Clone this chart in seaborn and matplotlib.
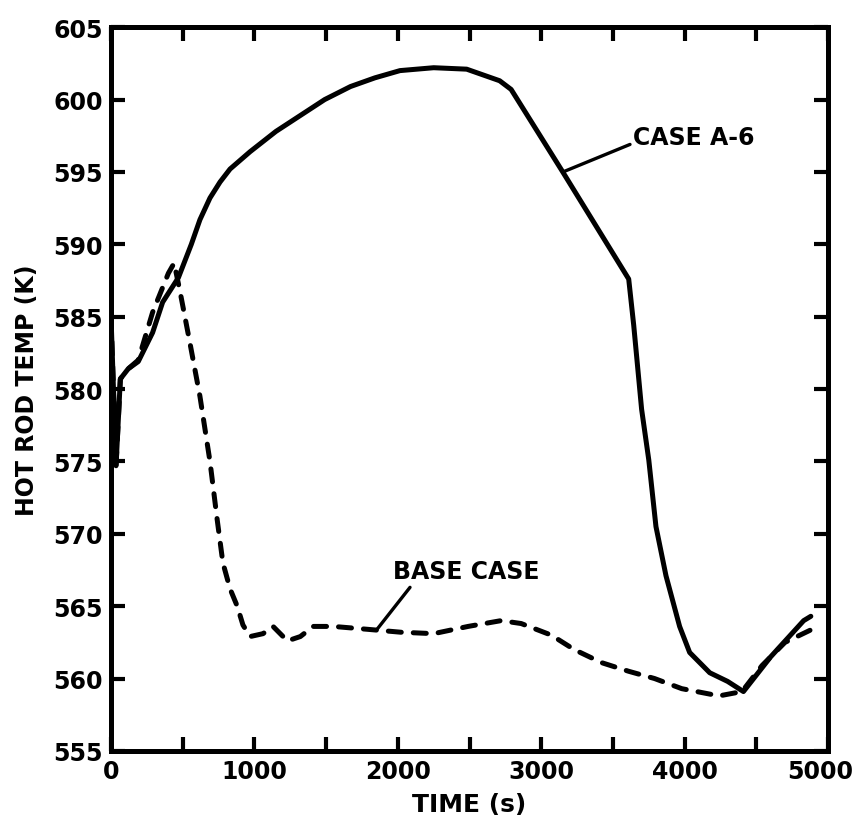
import numpy as np
import pandas as pd
import matplotlib
matplotlib.use('Agg')
import matplotlib.pyplot as plt
import matplotlib.transforms as mtransforms
from matplotlib.ticker import MultipleLocator
import seaborn as sns

# values
case_a6_time = [0, 35, 65, 120, 190, 290, 360, 470, 560, 620, 690, 760, 830, 970, 1150,
                1320, 1490, 1670, 1840, 2015, 2250, 2480, 2710, 2790, 3150, 3610, 3645,
                3700, 3750, 3800, 3870, 3965, 4035, 4175, 4300, 4410, 4600, 4830, 4880]
case_a6_temp = [585.0, 574.7, 580.7, 581.4, 581.9, 583.9, 586.0, 587.7, 590.0, 591.7,
                593.2, 594.3, 595.2, 596.4, 597.8, 598.9, 600.0, 600.9, 601.5, 602.0,
                602.2, 602.1, 601.3, 600.7, 595.0, 587.6, 584.4, 578.6, 575.1, 570.5,
                567.1, 563.6, 561.8, 560.4, 559.8, 559.1, 561.5, 564.0, 564.3]

base_time = [0, 35, 65, 120, 190, 290, 400, 440, 480, 550, 620, 690, 740, 780, 830,
             880, 920, 970, 1060, 1130, 1230, 1320, 1410, 1550, 1790, 2020, 2250, 2490,
             2720, 2860, 3070, 3230, 3420, 3610, 3790, 3980, 4240, 4400, 4540, 4700, 4930]
base_temp = [585.0, 574.7, 580.7, 581.4, 582.0, 585.3, 588.0, 588.7, 586.8, 583.2,
             579.5, 575.0, 571.0, 568.0, 566.2, 565.0, 563.7, 562.9, 563.1, 563.6,
             562.6, 562.9, 563.6, 563.6, 563.4, 563.2, 563.1, 563.6, 564.0, 563.8,
             563.0, 562.0, 561.1, 560.5, 560.0, 559.3, 558.8, 559.1, 560.9, 562.5, 563.6]

x_ticks = [0, 1000, 2000, 3000, 4000, 5000]
y_ticks = [555, 560, 565, 570, 575, 580, 585, 590, 595, 600, 605]

sns.set_theme(style='ticks')
plt.rcParams['font.family'] = ['DejaVu Sans']
plt.rcParams['font.weight'] = 'bold'
plt.rcParams['text.color'] = 'black'
plt.rcParams['axes.labelcolor'] = 'black'
plt.rcParams['xtick.color'] = 'black'
plt.rcParams['ytick.color'] = 'black'

fig, ax = plt.subplots(figsize=(8.54, 8.29), dpi=100)
fig.subplots_adjust(left=0.130, right=0.9696, top=0.966, bottom=0.093)

sns.lineplot(x=base_time, y=base_temp, ax=ax, color='black', linewidth=3.6,
             sort=False, estimator=None, linestyle=(0, (2.6, 2.4)),
             dash_capstyle='round')
sns.lineplot(x=case_a6_time, y=case_a6_temp, ax=ax, color='black', linewidth=3.6,
             sort=False, estimator=None, solid_capstyle='round', solid_joinstyle='round')

# labels with leader lines
ax.plot([3152, 3619], [595.0, 596.9], color='black', linewidth=2.4)
ax.text(3640, 597.4, 'CASE A-6', fontsize=17, fontweight='bold', va='center', ha='left')
ax.plot([2085, 1855], [566.3, 563.4], color='black', linewidth=2.4)
ax.text(1967, 567.4, 'BASE CASE', fontsize=17, fontweight='bold', va='center', ha='left')

ax.set_xlim(0, 5000)
ax.set_ylim(555, 605)
ax.set_xticks(x_ticks)
ax.set_yticks(y_ticks)
ax.xaxis.set_minor_locator(MultipleLocator(500))

ax.tick_params(which='both', direction='in', top=True, right=True,
               length=10, width=3, labelsize=17, pad=6, colors='black')
for lab in ax.get_xticklabels() + ax.get_yticklabels():
    lab.set_fontweight('bold')

# last x label is pushed in from the page edge
last = ax.get_xticklabels()[-1]
last.set_transform(last.get_transform() + mtransforms.ScaledTranslation(-8 / 100, 0, fig.dpi_scale_trans))

for sp in ax.spines.values():
    sp.set_linewidth(3.6)
    sp.set_color('black')

ax.set_xlabel('TIME (s)', fontsize=18, fontweight='bold', labelpad=6)
ax.set_ylabel('HOT ROD TEMP (K)', fontsize=17, fontweight='bold', labelpad=10)

plt.savefig('out.png', dpi=100)
